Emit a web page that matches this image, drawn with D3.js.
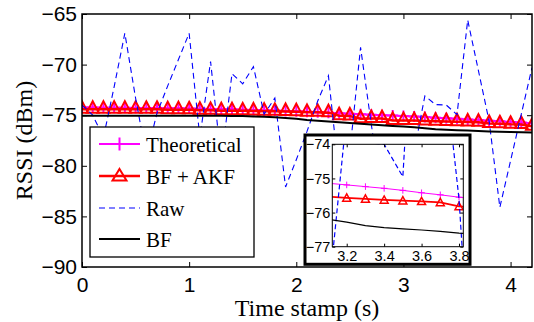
<!DOCTYPE html>
<html>
<head>
<meta charset="utf-8">
<script src="https://cdn.jsdelivr.net/npm/d3@7"></script>
<style>
  body { margin: 0; background: #fff; }
  svg { display: block; }
</style>
</head>
<body>
<div id="chart"></div>
<script>
// ---- data ----
const TIME = [0, 0.1, 0.2, 0.3, 0.4, 0.5, 0.6, 0.7, 0.8, 0.9,
  1.0, 1.1, 1.2, 1.3, 1.4, 1.5, 1.6, 1.7, 1.8, 1.9,
  2.0, 2.1, 2.2, 2.3, 2.4, 2.5, 2.6, 2.7, 2.8, 2.9,
  3.0, 3.1, 3.2, 3.3, 3.4, 3.5, 3.6, 3.7, 3.8, 3.9,
  4.0, 4.1, 4.2];

const THEORETICAL = [-74.25, -74.25, -74.26, -74.26, -74.27, -74.28, -74.29, -74.30, -74.31, -74.32,
  -74.34, -74.36, -74.38, -74.40, -74.42, -74.45, -74.48, -74.51, -74.54, -74.58,
  -74.62, -74.66, -74.70, -74.75, -74.80, -74.85, -74.90, -74.95, -75.00, -75.04,
  -75.09, -75.14, -75.19, -75.24, -75.29, -75.35, -75.42, -75.48, -75.55, -75.61,
  -75.67, -75.73, -75.79];

const BF_AKF = [-74.40, -74.40, -74.40, -74.40, -74.40, -74.42, -74.42, -74.42, -74.45, -74.45,
  -74.47, -74.50, -74.52, -74.55, -74.55, -74.57, -74.58, -74.60, -74.62, -74.63,
  -74.65, -74.72, -74.72, -74.75, -75.05, -75.08, -75.35, -75.32, -75.33, -75.52,
  -75.53, -75.53, -75.57, -75.60, -75.63, -75.65, -75.67, -75.70, -75.82, -75.85,
  -75.90, -75.92, -76.10];

const RAW = [-74.0, -75.0, -77.2, -72.2, -66.9, -73.3, -79.0, -74.8, -72.1, -69.5,
  -66.9, -77.2, -69.7, -79.5, -70.9, -71.9, -70.2, -74.9, -73.3, -82.1,
  -79.4, -76.6, -73.6, -71.1, -81.0, -78.6, -68.3, -75.9, -83.0, -81.5,
  -80.0, -78.6, -73.1, -73.95, -74.0, -74.95, -65.6, -70.6, -75.6, -84.1,
  -79.5, -74.9, -70.3];

const BF = [-75.05, -75.05, -75.05, -75.05, -75.05, -75.05, -75.05, -75.05, -75.05, -75.05,
  -75.05, -75.05, -75.05, -75.05, -75.07, -75.09, -75.12, -75.15, -75.20, -75.27,
  -75.36, -75.48, -75.55, -75.62, -75.70, -75.78, -75.85, -75.92, -75.99, -76.06,
  -76.12, -76.20, -76.28, -76.38, -76.44, -76.48, -76.51, -76.55, -76.60, -76.63,
  -76.66, -76.69, -76.72];

const X_TICKS = [0, 1, 2, 3, 4];
const Y_TICKS = [-90, -85, -80, -75, -70, -65];
const INSET_X_TICKS = [3.2, 3.4, 3.6, 3.8];
const INSET_Y_TICKS = [-77, -76, -75, -74];
const LEGEND_LABELS = ['Theoretical', 'BF + AKF', 'Raw', 'BF'];

// ---- layout ----
const W = 534, H = 322;
const SANS = 'Liberation Sans, Arial, Helvetica, sans-serif';
const SERIF = 'Liberation Serif, Times New Roman, serif';

const svg = d3.select('#chart').append('svg')
  .attr('width', W)
  .attr('height', H);

const main = { left: 82, right: 532, top: 14, bottom: 267 };
const inset = { left: 332.3, right: 463.3, top: 144.3, bottom: 246.7 };

const x = d3.scaleLinear().domain([0, 4.2]).range([main.left, main.right]);
const y = d3.scaleLinear().domain([-90, -65]).range([main.bottom, main.top]);
const xi = d3.scaleLinear().domain([3.123, 3.823]).range([inset.left, inset.right]);
const yi = d3.scaleLinear().domain([-77, -74]).range([inset.bottom, inset.top]);

// marker shapes
const triPath = (w, up, down) => `M0,${-up}L${w / 2},${down}L${-w / 2},${down}Z`;
const plusPath = s => `M${-s},0H${s}M0,${-s}V${s}`;

// draws the four series into a group, with given scales and style sizes
function drawSeries(g, sx, sy, st, markerFilter) {
  const pts = vals => TIME.map((t, i) => [t, vals[i]]);
  const line = d3.line().x(d => sx(d[0])).y(d => sy(d[1]));

  // Theoretical
  g.append('path').attr('d', line(pts(THEORETICAL)))
    .attr('fill', 'none').attr('stroke', '#ff00ff').attr('stroke-width', st.thLw);
  g.selectAll('.plus').data(pts(THEORETICAL).filter(markerFilter)).enter().append('path')
    .attr('d', plusPath(st.plus))
    .attr('transform', d => `translate(${sx(d[0])},${sy(d[1])})`)
    .attr('fill', 'none').attr('stroke', '#ff00ff').attr('stroke-width', st.thLw);

  // BF + AKF
  g.append('path').attr('d', line(pts(BF_AKF)))
    .attr('fill', 'none').attr('stroke', '#ff0000').attr('stroke-width', st.akfLw);
  g.selectAll('.tri').data(pts(BF_AKF).filter(markerFilter)).enter().append('path')
    .attr('d', triPath(st.triW, st.triUp, st.triDown))
    .attr('transform', d => `translate(${sx(d[0])},${sy(d[1])})`)
    .attr('fill', 'none').attr('stroke', '#ff0000').attr('stroke-width', st.triLw)
    .attr('stroke-linejoin', 'miter');

  // Raw
  g.append('path').attr('d', line(pts(RAW)))
    .attr('fill', 'none').attr('stroke', '#0000ff').attr('stroke-width', st.rawLw)
    .attr('stroke-dasharray', st.dash);

  // BF
  g.append('path').attr('d', line(pts(BF)))
    .attr('fill', 'none').attr('stroke', '#000').attr('stroke-width', st.bfLw);
}

// ---- main axes ----
svg.append('clipPath').attr('id', 'clipMain').append('rect')
  .attr('x', main.left).attr('y', main.top)
  .attr('width', main.right - main.left).attr('height', main.bottom - main.top);

const gMain = svg.append('g').attr('clip-path', 'url(#clipMain)');
drawSeries(gMain, x, y, {
  thLw: 2, plus: 5.5, akfLw: 2.5, triW: 12, triUp: 8, triDown: 3.5, triLw: 2,
  rawLw: 1.1, dash: '6,4', bfLw: 2
}, () => true);

// ticks (inward, on all four sides)
const styleAxis = (g, size) => {
  g.select('.domain').remove();
  g.selectAll('.tick line').attr('stroke', '#000').attr('stroke-width', 1);
  g.selectAll('.tick text').attr('fill', '#000').attr('font-family', SANS).attr('font-size', size);
};

svg.append('g').attr('transform', `translate(0,${main.bottom})`)
  .call(d3.axisBottom(x).tickValues(X_TICKS).tickFormat(d3.format('d')).tickSize(-5).tickPadding(10))
  .call(g => styleAxis(g, 21));
svg.append('g').attr('transform', `translate(0,${main.top})`)
  .call(d3.axisTop(x).tickValues(X_TICKS).tickFormat('').tickSize(-5))
  .call(g => styleAxis(g, 21));
svg.append('g').attr('transform', `translate(${main.left},0)`)
  .call(d3.axisLeft(y).tickValues(Y_TICKS).tickFormat(d3.format('d')).tickSize(-5).tickPadding(5))
  .call(g => styleAxis(g, 21));
svg.append('g').attr('transform', `translate(${main.right},0)`)
  .call(d3.axisRight(y).tickValues(Y_TICKS).tickFormat('').tickSize(-5))
  .call(g => styleAxis(g, 21));

svg.append('rect')
  .attr('x', main.left).attr('y', main.top)
  .attr('width', main.right - main.left).attr('height', main.bottom - main.top)
  .attr('fill', 'none').attr('stroke', '#000').attr('stroke-width', 1.5);

// axis titles
svg.append('text')
  .attr('x', (main.left + main.right) / 2).attr('y', 316)
  .attr('text-anchor', 'middle')
  .attr('font-family', SERIF).attr('font-size', 24)
  .text('Time stamp (s)');
svg.append('text')
  .attr('transform', `translate(31.5,${(main.top + main.bottom) / 2}) rotate(-90)`)
  .attr('text-anchor', 'middle')
  .attr('font-family', SERIF).attr('font-size', 24)
  .text('RSSI (dBm)');

// ---- legend ----
const leg = svg.append('g');
leg.append('rect')
  .attr('x', 90).attr('y', 127).attr('width', 164).attr('height', 130)
  .attr('fill', '#fff').attr('stroke', '#000').attr('stroke-width', 1.3);

const legRows = [144, 176, 208, 239];
const legStyles = [
  { color: '#ff00ff', lw: 2, dash: null, marker: plusPath(6.5) },
  { color: '#ff0000', lw: 2.5, dash: null, marker: triPath(14, 7, 4.5) },
  { color: '#0000ff', lw: 1.1, dash: '6,4', marker: null },
  { color: '#000', lw: 2, dash: null, marker: null }
];
LEGEND_LABELS.forEach((label, i) => {
  const ly = legRows[i], s = legStyles[i];
  leg.append('line')
    .attr('x1', 99).attr('x2', 140).attr('y1', ly).attr('y2', ly)
    .attr('stroke', s.color).attr('stroke-width', s.lw)
    .attr('stroke-dasharray', s.dash);
  if (s.marker) {
    leg.append('path').attr('d', s.marker)
      .attr('transform', `translate(119.5,${ly})`)
      .attr('fill', 'none').attr('stroke', s.color).attr('stroke-width', 2);
  }
  leg.append('text')
    .attr('x', 146).attr('y', ly + 7.5)
    .attr('font-family', SERIF).attr('font-size', 21)
    .text(label);
});

// ---- inset ----
svg.append('rect')
  .attr('x', 305).attr('y', 135).attr('width', 165).attr('height', 129.3)
  .attr('fill', '#fff').attr('stroke', '#000').attr('stroke-width', 3);

svg.append('clipPath').attr('id', 'clipInset').append('rect')
  .attr('x', inset.left).attr('y', inset.top)
  .attr('width', inset.right - inset.left).attr('height', inset.bottom - inset.top);

const gInset = svg.append('g').attr('clip-path', 'url(#clipInset)');
drawSeries(gInset, xi, yi, {
  thLw: 1, plus: 3.3, akfLw: 1.8, triW: 8, triUp: 4, triDown: 3.3, triLw: 1.5,
  rawLw: 1.2, dash: '5,3', bfLw: 1.2
}, d => d[0] >= 3.15 && d[0] <= 3.82);

svg.append('g').attr('transform', `translate(0,${inset.bottom})`)
  .call(d3.axisBottom(xi).tickValues(INSET_X_TICKS).tickFormat(d3.format('.1f')).tickSize(-3).tickPadding(4))
  .call(g => styleAxis(g, 14.5));
svg.append('g').attr('transform', `translate(0,${inset.top})`)
  .call(d3.axisTop(xi).tickValues(INSET_X_TICKS).tickFormat('').tickSize(-3))
  .call(g => styleAxis(g, 14.5));
svg.append('g').attr('transform', `translate(${inset.left},0)`)
  .call(d3.axisLeft(yi).tickValues(INSET_Y_TICKS).tickFormat(d3.format('d')).tickSize(-3).tickPadding(2))
  .call(g => styleAxis(g, 14.5));
svg.append('g').attr('transform', `translate(${inset.right},0)`)
  .call(d3.axisRight(yi).tickValues(INSET_Y_TICKS).tickFormat('').tickSize(-3))
  .call(g => styleAxis(g, 14.5));

svg.append('rect')
  .attr('x', inset.left).attr('y', inset.top)
  .attr('width', inset.right - inset.left).attr('height', inset.bottom - inset.top)
  .attr('fill', 'none').attr('stroke', '#000').attr('stroke-width', 1);
</script>
</body>
</html>
